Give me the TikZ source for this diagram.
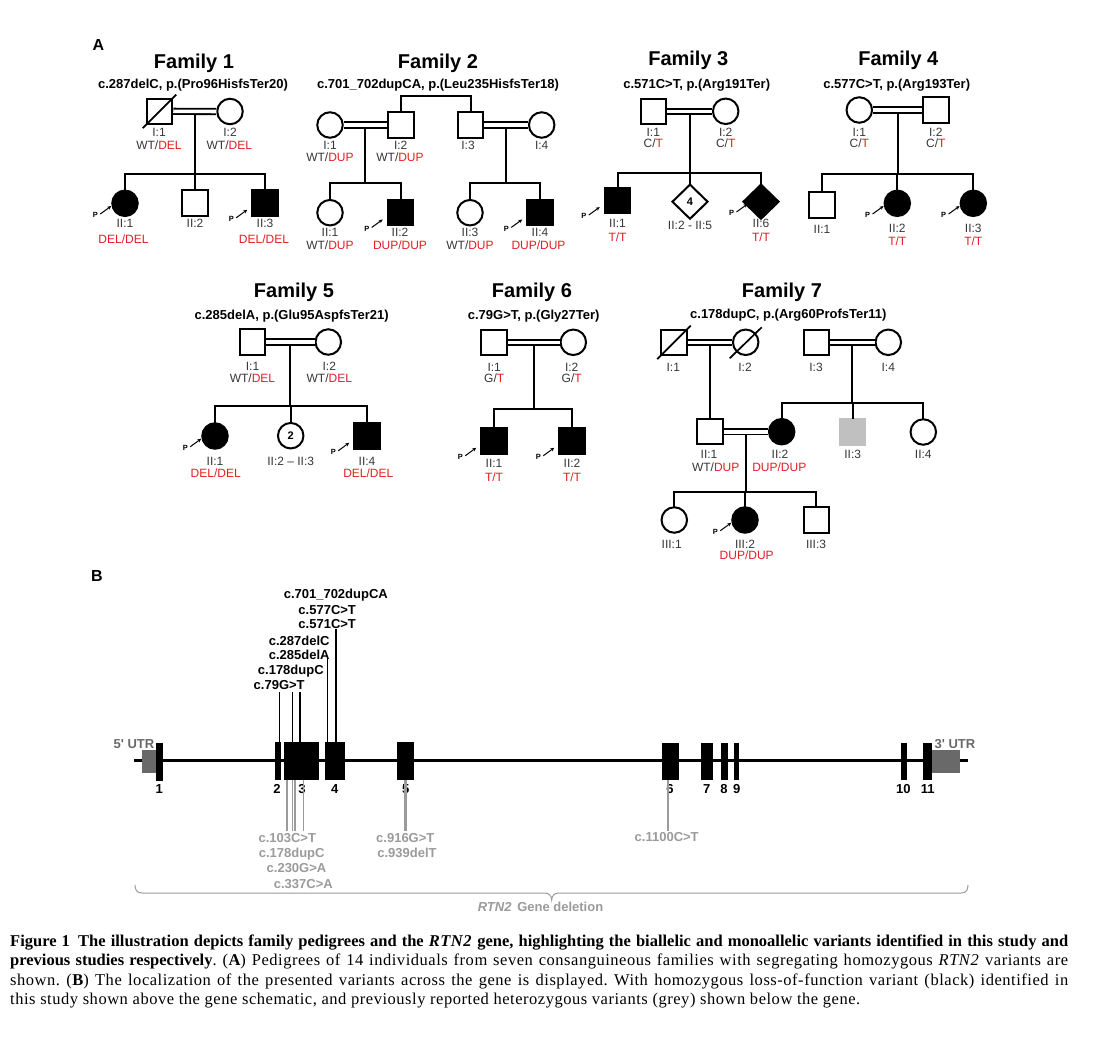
\documentclass[tikz,border=0pt]{standalone}
\usepackage{fontspec}
\setmainfont{Liberation Serif}
\newfontfamily\capfont{Liberation Serif}[LetterSpace=3.2, BoldFeatures={LetterSpace=0}]
\newfontfamily\arialf{Liberation Sans}
\usetikzlibrary{shapes.geometric,arrows.meta,calc}
\definecolor{gred}{RGB}{228,30,38}
\definecolor{lblc}{RGB}{55,55,55}
\definecolor{varg}{RGB}{155,155,155}
\definecolor{utrg}{RGB}{105,105,105}
\definecolor{affg}{RGB}{192,192,192}
\newcommand{\R}[1]{\textcolor{gred}{#1}}
\newcommand{\prb}[1]{%
  \node[pf] (#1P) at ($(#1.south west)+(-20,2)$) {P};
  \draw[parr] ($(#1.south west)+(-15,1)$) -- ($(#1.south west)+(-4,-7)$);}
\begin{document}
\begin{tikzpicture}[x=1pt,y=-1pt,
  every node/.style={font=\arialf},
  ped/.style={draw=black, line width=2pt, inner sep=0pt, minimum size=25.5pt},
  sq/.style={ped, rectangle},
  ci/.style={ped, circle},
  dm/.style={ped, diamond, minimum width=36pt, minimum height=35pt},
  aff/.style={fill=black},
  lnk/.style={line width=2pt, line cap=rect},
  marr/.style={line width=1.8pt, double=white, double distance=3.6pt},
  dead/.style={line width=1.7pt},
  ttl/.style={font=\arialf\bfseries\fontsize{20}{22}\selectfont, inner sep=0pt, text height=14.4pt, text depth=0pt},
  sub/.style={font=\arialf\bfseries\fontsize{13}{14}\selectfont, inner sep=0pt, text height=9.4pt, text depth=0pt},
  lb/.style={font=\arialf\fontsize{12}{13}\selectfont, text=lblc, inner sep=0pt, text height=8.6pt, text depth=0pt},
  pf/.style={font=\arialf\bfseries\fontsize{7.5}{8}\selectfont, inner sep=0pt},
  parr/.style={line width=1pt, -{Stealth[length=4pt,width=3.6pt]}},
  pan/.style={font=\arialf\bfseries\fontsize{16}{18}\selectfont, inner sep=0pt, text height=11.5pt, text depth=0pt},
  gl/.style={font=\arialf\bfseries\fontsize{13}{14}\selectfont, inner sep=0pt, text height=9.4pt, text depth=0pt},
  ggl/.style={gl, text=varg},
  en/.style={font=\arialf\bfseries\fontsize{13}{14}\selectfont, inner sep=0pt, text height=9.4pt, text depth=0pt},
  utr/.style={gl, text=utrg},
  vline/.style={line width=1.2pt, black},
  gvline/.style={line width=1.2pt, varg},
  exon/.style={fill=black}
]
\useasboundingbox[fill=white] (0,0) rectangle (1098,1039);

% ---------------- Panel labels
\node[pan] (pA) at (98.5,45) {A};
\node[pan] (pB) at (97,576) {B};

% ================= Family 1
\node[ttl] (f1t) at (194,61.5) {Family 1};
\node[sub] (f1st) at (193,83.3) {c.287delC, p.(Pro96HisfsTer20)};
\node[sq] (f1i1) at (159.5,111.3) {};
\node[ci] (f1i2) at (230,111.5) {};
\draw[dead] ($(f1i1.south west)+(-3,3)$) -- ($(f1i1.north east)+(3,-3)$);
\draw[marr] (f1i1) -- (f1i2);
\coordinate (f1m) at ($(f1i1)!.5!(f1i2)$);
\coordinate (f1s) at (0,174);
\node[ci,aff] (f1c1) at (125,203.3) {};
\node[sq] (f1c2) at (195,203) {};
\node[sq,aff] (f1c3) at (265,203) {};
\draw[lnk] ($(f1m)+(0,3.4)$) -- (f1m |- f1s);
\draw[lnk] (f1c1) -- (f1s -| f1c1) -- (f1s -| f1c3) -- (f1c3);
\draw[lnk] (f1s -| f1c2) -- (f1c2);
\node[lb] (f1li1) at (159,131.7) {I:1};
\node[lb] (f1gi1) at (159,145) {WT/\R{DEL}};
\node[lb] (f1li2) at (230,131.7) {I:2};
\node[lb] (f1gi2) at (229.3,145) {WT/\R{DEL}};
\node[lb] (f1lc1) at (125,223.3) {II:1};
\node[lb] (f1gc1) at (123.5,239.3) {\R{DEL/DEL}};
\node[lb] (f1lc2) at (195,223.3) {II:2};
\node[lb] (f1lc3) at (265,223.3) {II:3};
\node[lb] (f1gc3) at (264,239.3) {\R{DEL/DEL}};
\prb{f1c1}
\prb{f1c3}

% ================= Family 2
\node[ttl] (f2t) at (438,61.5) {Family 2};
\node[sub] (f2st) at (438,83.3) {c.701\_702dupCA, p.(Leu235HisfsTer18)};
\node[ci] (f2i1) at (330,125) {};
\node[sq] (f2i2) at (400.8,125) {};
\node[sq] (f2i3) at (470.5,125) {};
\node[ci] (f2i4) at (541.7,125) {};
\coordinate (f2top) at (0,96);
\draw[lnk] (f2i2) -- (f2i2 |- f2top) -- (f2i3 |- f2top) -- (f2i3);
\draw[marr] (f2i1) -- (f2i2);
\draw[marr] (f2i3) -- (f2i4);
\coordinate (f2m1) at ($(f2i1)!.5!(f2i2)$);
\coordinate (f2m2) at ($(f2i3)!.5!(f2i4)$);
\coordinate (f2s) at (0,182.7);
\node[ci] (f2c1) at (330,212.7) {};
\node[sq,aff] (f2c2) at (400.5,212.7) {};
\node[ci] (f2c3) at (470,212.7) {};
\node[sq,aff] (f2c4) at (540,212.7) {};
\draw[lnk] ($(f2m1)+(0,3.4)$) -- (f2m1 |- f2s);
\draw[lnk] ($(f2m2)+(0,3.4)$) -- (f2m2 |- f2s);
\draw[lnk] (f2c1) -- (f2s -| f2c1) -- (f2s -| f2c2) -- (f2c2);
\draw[lnk] (f2c3) -- (f2s -| f2c3) -- (f2s -| f2c4) -- (f2c4);
\node[lb] (f2li1) at (330,145) {I:1};
\node[lb] (f2gi1) at (330,157.3) {WT/\R{DUP}};
\node[lb] (f2li2) at (400.7,145) {I:2};
\node[lb] (f2gi2) at (400,157.3) {WT/\R{DUP}};
\node[lb] (f2li3) at (468,145) {I:3};
\node[lb] (f2li4) at (541.7,145) {I:4};
\node[lb] (f2lc1) at (330,231.7) {II:1};
\node[lb] (f2gc1) at (330,245) {WT/\R{DUP}};
\node[lb] (f2lc2) at (400,231.7) {II:2};
\node[lb] (f2gc2) at (400,245) {\R{DUP/DUP}};
\node[lb] (f2lc3) at (470,231.7) {II:3};
\node[lb] (f2gc3) at (470,245) {WT/\R{DUP}};
\node[lb] (f2lc4) at (540,231.7) {II:4};
\node[lb] (f2gc4) at (538.5,245) {\R{DUP/DUP}};
\prb{f2c2}
\prb{f2c4}

% ================= Family 3
\node[ttl] (f3t) at (688.3,58.3) {Family 3};
\node[sub] (f3st) at (696.7,83.3) {c.571C>T, p.(Arg191Ter)};
\node[sq] (f3i1) at (653.3,111.3) {};
\node[ci] (f3i2) at (725.7,111.3) {};
\draw[marr] (f3i1) -- (f3i2);
\coordinate (f3m) at ($(f3i1)!.5!(f3i2)$);
\coordinate (f3s) at (0,173.3);
\node[sq,aff] (f3c1) at (617.5,200.3) {};
\node[dm] (f3c2) at (690,201.7) {\bfseries\fontsize{11}{12}\selectfont 4};
\node[dm,aff] (f3c3) at (761,201.7) {};
\draw[lnk] ($(f3m)+(0,3.4)$) -- (f3m |- f3s);
\draw[lnk] (f3c1) -- (f3s -| f3c1) -- (f3s -| f3c3) -- (f3c3);
\draw[lnk] (f3s -| f3c2) -- (f3c2);
\node[lb] (f3li1) at (653.3,131.7) {I:1};
\node[lb] (f3gi1) at (653.3,142.7) {C/\R{T}};
\node[lb] (f3li2) at (725.7,131.7) {I:2};
\node[lb] (f3gi2) at (725.7,142.7) {C/\R{T}};
\node[lb] (f3lc1) at (617.5,223.3) {II:1};
\node[lb] (f3gc1) at (617.5,236.7) {\R{T/T}};
\node[lb] (f3lc2) at (690,225) {II:2 - II:5};
\node[lb] (f3lc3) at (761,223.3) {II:6};
\node[lb] (f3gc3) at (761,236.7) {\R{T/T}};
\prb{f3c1}
\prb{f3c3}

% ================= Family 4
\node[ttl] (f4t) at (898.3,58.3) {Family 4};
\node[sub] (f4st) at (896.7,83.3) {c.577C>T, p.(Arg193Ter)};
\node[ci] (f4i1) at (859.3,110) {};
\node[sq] (f4i2) at (935.8,110) {};
\draw[marr] (f4i1) -- (f4i2);
\coordinate (f4m) at ($(f4i1)!.5!(f4i2)$);
\coordinate (f4s) at (0,174);
\node[sq] (f4c1) at (822,205) {};
\node[ci,aff] (f4c2) at (897.3,203.3) {};
\node[ci,aff] (f4c3) at (973.3,203.3) {};
\draw[lnk] ($(f4m)+(0,3.4)$) -- (f4m |- f4s);
\draw[lnk] (f4c1) -- (f4s -| f4c1) -- (f4s -| f4c3) -- (f4c3);
\draw[lnk] (f4s -| f4c2) -- (f4c2);
\node[lb] (f4li1) at (859.3,131.7) {I:1};
\node[lb] (f4gi1) at (859.3,142.7) {C/\R{T}};
\node[lb] (f4li2) at (935.8,131.7) {I:2};
\node[lb] (f4gi2) at (935.8,142.7) {C/\R{T}};
\node[lb] (f4lc1) at (822,229.3) {II:1};
\node[lb] (f4lc2) at (897.3,228.3) {II:2};
\node[lb] (f4gc2) at (897.3,240.7) {\R{T/T}};
\node[lb] (f4lc3) at (973.3,228.3) {II:3};
\node[lb] (f4gc3) at (973.3,240.7) {\R{T/T}};
\prb{f4c2}
\prb{f4c3}

% ================= Family 5
\node[ttl] (f5t) at (294,290) {Family 5};
\node[sub] (f5st) at (291.7,315) {c.285delA, p.(Glu95AspfsTer21)};
\node[sq] (f5i1) at (252.5,342) {};
\node[ci] (f5i2) at (328.3,342) {};
\draw[marr] (f5i1) -- (f5i2);
\coordinate (f5m) at ($(f5i1)!.5!(f5i2)$);
\coordinate (f5s) at (0,406);
\node[ci,aff] (f5c1) at (215,436) {};
\node[ci] (f5c2) at (290.7,435.7) {\bfseries\fontsize{11}{12}\selectfont 2};
\node[sq,aff] (f5c3) at (367,436) {};
\draw[lnk] ($(f5m)+(0,3.4)$) -- (f5m |- f5s);
\draw[lnk] (f5c1) -- (f5s -| f5c1) -- (f5s -| f5c3) -- (f5c3);
\draw[lnk] (f5s -| f5c2) -- (f5c2);
\node[lb] (f5li1) at (252.5,365.7) {I:1};
\node[lb] (f5gi1) at (252.5,378.3) {WT/\R{DEL}};
\node[lb] (f5li2) at (329.3,365.7) {I:2};
\node[lb] (f5gi2) at (329.3,378.3) {WT/\R{DEL}};
\node[lb] (f5lc1) at (215,461) {II:1};
\node[lb] (f5gc1) at (215.7,473.3) {\R{DEL/DEL}};
\node[lb] (f5lc2) at (290.7,461) {II:2 \textendash{} II:3};
\node[lb] (f5lc3) at (367,461) {II:4};
\node[lb] (f5gc3) at (368.3,473.3) {\R{DEL/DEL}};
\prb{f5c1}
\prb{f5c3}

% ================= Family 6
\node[ttl] (f6t) at (532,290) {Family 6};
\node[sub] (f6st) at (533.7,315) {c.79G>T, p.(Gly27Ter)};
\node[sq] (f6i1) at (494.2,342.3) {};
\node[ci] (f6i2) at (573.3,342.3) {};
\draw[marr] (f6i1) -- (f6i2);
\coordinate (f6m) at ($(f6i1)!.5!(f6i2)$);
\coordinate (f6s) at (0,409.3);
\node[sq,aff] (f6c1) at (494,441) {};
\node[sq,aff] (f6c2) at (572,441) {};
\draw[lnk] ($(f6m)+(0,3.4)$) -- (f6m |- f6s);
\draw[lnk] (f6c1) -- (f6s -| f6c1) -- (f6s -| f6c2) -- (f6c2);
\node[lb] (f6li1) at (494.2,366.7) {I:1};
\node[lb] (f6gi1) at (494.2,378.3) {G/\R{T}};
\node[lb] (f6li2) at (571.7,366.7) {I:2};
\node[lb] (f6gi2) at (571.7,378.3) {G/\R{T}};
\node[lb] (f6lc1) at (494,463.3) {II:1};
\node[lb] (f6gc1) at (494,477.3) {\R{T/T}};
\node[lb] (f6lc2) at (572,463.3) {II:2};
\node[lb] (f6gc2) at (572,477.3) {\R{T/T}};
\prb{f6c1}
\prb{f6c2}

% ================= Family 7
\node[ttl] (f7t) at (782,290) {Family 7};
\node[sub] (f7st) at (788.3,313.3) {c.178dupC, p.(Arg60ProfsTer11)};
\node[sq] (f7i1) at (674,342.3) {};
\node[ci] (f7i2) at (745.7,342.3) {};
\node[sq] (f7i3) at (816.3,342.3) {};
\node[ci] (f7i4) at (888.3,342.3) {};
\draw[dead] ($(f7i1.south west)+(-3,3)$) -- ($(f7i1.north east)+(3,-3)$);
\draw[dead] ($(f7i2)+(-16,16)$) -- ($(f7i2)+(16,-15)$);
\draw[marr] (f7i1) -- (f7i2);
\draw[marr] (f7i3) -- (f7i4);
\coordinate (f7m1) at ($(f7i1)!.5!(f7i2)$);
\coordinate (f7m2) at ($(f7i3)!.5!(f7i4)$);
\node[sq] (f7ii1) at (710,431.7) {};
\node[ci,aff] (f7ii2) at (781.7,431.7) {};
\node[sq, draw=affg, fill=affg] (f7ii3) at (852.5,432) {};
\node[ci] (f7ii4) at (923.3,432) {};
\coordinate (f7s2) at (0,403.3);
\draw[lnk] ($(f7m1)+(0,3.4)$) -- (f7m1 |- f7ii1.north);
\draw[lnk] ($(f7m2)+(0,3.4)$) -- (f7m2 |- f7s2);
\draw[lnk] (f7ii2) -- (f7s2 -| f7ii2) -- (f7s2 -| f7ii4) -- (f7ii4);
\draw[lnk] (f7s2 -| f7ii3) -- (f7ii3);
\draw[marr] (f7ii1) -- (f7ii2);
\coordinate (f7m3) at ($(f7ii1)!.5!(f7ii2)$);
\coordinate (f7s3) at (0,491.7);
\node[ci] (f7c1) at (674.3,520) {};
\node[ci,aff] (f7c2) at (745,520) {};
\node[sq] (f7c3) at (816.3,520) {};
\draw[lnk] ($(f7m3)+(0,3.4)$) -- (f7m3 |- f7s3);
\draw[lnk] (f7c1) -- (f7s3 -| f7c1) -- (f7s3 -| f7c3) -- (f7c3);
\draw[lnk] (f7s3 -| f7c2) -- (f7c2);
\node[lb] (f7li1) at (673.3,366.7) {I:1};
\node[lb] (f7li2) at (745,366.7) {I:2};
\node[lb] (f7li3) at (816,366.7) {I:3};
\node[lb] (f7li4) at (888.3,366.7) {I:4};
\node[lb] (f7lii1) at (709,454.3) {II:1};
\node[lb] (f7gii1) at (715.7,466.7) {WT/\R{DUP}};
\node[lb] (f7lii2) at (780,454.3) {II:2};
\node[lb] (f7gii2) at (779.3,466.7) {\R{DUP/DUP}};
\node[lb] (f7lii3) at (852.7,454.3) {II:3};
\node[lb] (f7lii4) at (923.3,454.3) {II:4};
\node[lb] (f7lc1) at (671.7,544) {III:1};
\node[lb] (f7lc2) at (745,544) {III:2};
\node[lb] (f7gc2) at (746.7,555.5) {\R{DUP/DUP}};
\node[lb] (f7lc3) at (816,544) {III:3};
\prb{f7c2}

% ================= Gene schematic
\draw[line width=3.5pt] (134.3,760.7) -- (967.7,760.7);
\fill[utrg] (142.3,750) rectangle (156,773);
\fill[utrg] (931.7,750) rectangle (960,772.7);
\fill[exon] (156,742.5) rectangle (162.7,780.5);
\fill[exon] (275,742) rectangle (280.7,780);
\fill[exon] (284.3,742) rectangle (319.3,780);
\fill[exon] (324.7,742) rectangle (345.3,780);
\fill[exon] (396.7,742) rectangle (414.3,780);
\fill[exon] (662,742.5) rectangle (679,780);
\fill[exon] (701,742.5) rectangle (713.3,780);
\fill[exon] (720.7,742.5) rectangle (728,780);
\fill[exon] (733.7,742.5) rectangle (739,780);
\fill[exon] (900.7,742.5) rectangle (907.3,780);
\fill[exon] (923,742.5) rectangle (931.7,780);
\node[utr] (u5) at (134,744) {5' UTR};
\node[utr] (u3) at (955,744) {3' UTR};
\node[en] (e1) at (159.3,788.5) {1};
\node[en] (e2) at (277,788.5) {2};
\node[en] (e3) at (302,788.5) {3};
\node[en] (e4) at (334.7,788.5) {4};
\node[en] (e5) at (405.7,788.5) {5};
\node[en] (e6) at (670,788.5) {6};
\node[en] (e7) at (706.7,788.5) {7};
\node[en] (e8) at (724,788.5) {8};
\node[en] (e9) at (736.7,788.5) {9};
\node[en] (e10) at (903.3,788.5) {10};
\node[en] (e11) at (927.7,788.5) {11};

% variants identified in this study (black)
\node[gl] (v1) at (335.8,594) {c.701\_702dupCA};
\node[gl] (v2) at (327.2,609.3) {c.577C>T};
\node[gl] (v3) at (327.2,623.3) {c.571C>T};
\node[gl] (v4) at (299.2,640.5) {c.287delC};
\node[gl] (v5) at (299.2,655) {c.285delA};
\node[gl] (v6) at (290.8,669.3) {c.178dupC};
\node[gl] (v7) at (279.2,684.5) {c.79G>T};
\draw[vline] (279.3,692) -- (279.3,742);
\draw[vline] (292.7,692) -- (292.7,742);
\draw[vline] (300,692) -- (300,742);
\draw[vline] (327.3,658) -- (327.3,742);
\draw[vline] (336,628.5) -- (336,742);

% previously reported variants (grey)
\draw[gvline] (287,780) -- (287,831);
\draw[gvline] (292.4,780) -- (292.4,831);
\draw[gvline] (295,780) -- (295,831);
\draw[gvline] (303.3,780) -- (303.3,831);
\draw[gvline] (404.9,780) -- (404.9,831);
\draw[gvline] (406.5,780) -- (406.5,831);
\draw[gvline] (668,780) -- (668,831);
\node[ggl] (w1) at (287.3,837.3) {c.103C>T};
\node[ggl] (w2) at (291.7,852.7) {c.178dupC};
\node[ggl] (w3) at (296.5,867.7) {c.230G>A};
\node[ggl] (w4) at (303.3,883.7) {c.337C>A};
\node[ggl] (w5) at (405.3,837.3) {c.916G>T};
\node[ggl] (w6) at (407,852.7) {c.939delT};
\node[ggl] (w7) at (666.7,837) {c.1100C>T};

% brace
\draw[varg, line width=1pt] (135,885) .. controls (135,890) and (137,893) .. (142,893)
  -- (545,893) .. controls (549,893) and (551.7,896) .. (551.7,900)
  .. controls (551.7,896) and (554.4,893) .. (558.4,893)
  -- (961,893) .. controls (966,893) and (968,890) .. (968,885);
\node[ggl] (gdel) at (540.5,906.7) {\textit{RTN2}\, Gene deletion};

% ================= Caption
\node[anchor=north west, inner sep=0pt, text width=1058pt, align=justify,
  font=\capfont\fontsize{16.5}{19.5}\selectfont\frenchspacing] (cap) at (10,934.5)
  {\textbf{Figure 1\enspace The illustration depicts family pedigrees and the \textit{RTN2} gene, highlighting the biallelic and monoallelic variants identified in this study and\linebreak previous studies respectively}. (\textbf{A}) Pedigrees of 14 individuals from seven consanguineous families with segregating homozygous \textit{RTN2} variants are\linebreak shown. (\textbf{B}) The localization of the presented variants across the gene is displayed. With homozygous loss-of-function variant (black) identified in\linebreak this study shown above the gene schematic, and previously reported heterozygous variants (grey) shown below the gene.\par};
\end{tikzpicture}
\end{document}
